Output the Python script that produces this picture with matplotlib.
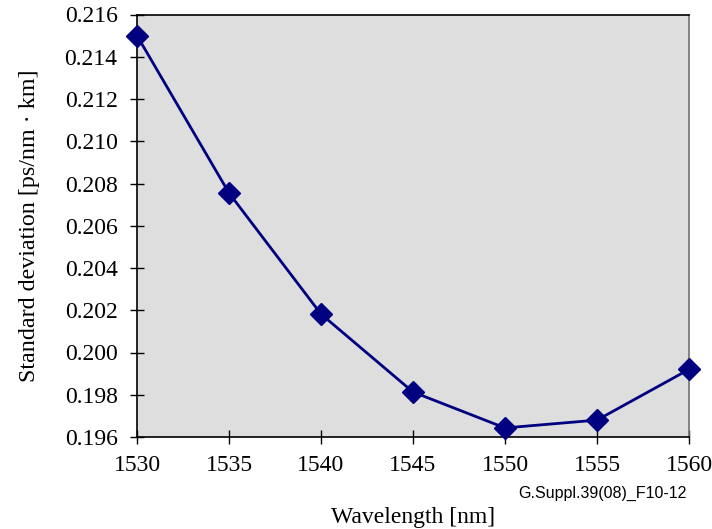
import matplotlib.pyplot as plt

wavelength = [1530, 1535, 1540, 1545, 1550, 1555, 1560]
std_dev = [0.2150, 0.20755, 0.20182, 0.19813, 0.19643, 0.19680, 0.19920]

x_ticks = [1530, 1535, 1540, 1545, 1550, 1555, 1560]
y_ticks = [0.196, 0.198, 0.200, 0.202, 0.204, 0.206, 0.208, 0.210, 0.212, 0.214, 0.216]


def main():
    plt.rcParams["font.family"] = "Liberation Serif"

    fig = plt.figure(figsize=(7.12, 5.29), dpi=100)
    ax = fig.add_axes([137 / 712, 1 - 437 / 529, (689 - 137) / 712, (437 - 14.5) / 529])
    ax.set_facecolor("#dedede")

    ax.plot(wavelength, std_dev, color="#000080", linewidth=2,
            marker="D", markersize=11, markerfacecolor="#000080",
            markeredgecolor="#000080", clip_on=False, zorder=3)

    ax.set_xlim(1530, 1560)
    ax.set_ylim(0.196, 0.216)
    ax.set_xticks(x_ticks)
    ax.set_yticks(y_ticks)
    ax.set_yticklabels([f"{v:.3f}" for v in y_ticks])
    ax.tick_params(axis="both", direction="inout", length=10, width=1,
                   labelsize=17, color="black")
    ax.tick_params(axis="x", pad=8)
    ax.tick_params(axis="y", pad=9)

    for side in ["left", "bottom", "top"]:
        ax.spines[side].set_color("black")
        ax.spines[side].set_linewidth(1.2)
    ax.spines["right"].set_color("#707070")
    ax.spines["right"].set_linewidth(1.2)

    ax.set_xlabel("Wavelength [nm]", fontsize=17, labelpad=22)
    ax.set_ylabel("Standard deviation [ps/nm \u00b7 km]", fontsize=17.3, labelpad=18)

    fig.text(687 / 712, 1 - 493 / 529, "G.Suppl.39(08)_F10-12",
             family="Liberation Sans", fontsize=11.5, ha="right", va="center")

    fig.savefig("out.png", dpi=100)


if __name__ == "__main__":
    main()
